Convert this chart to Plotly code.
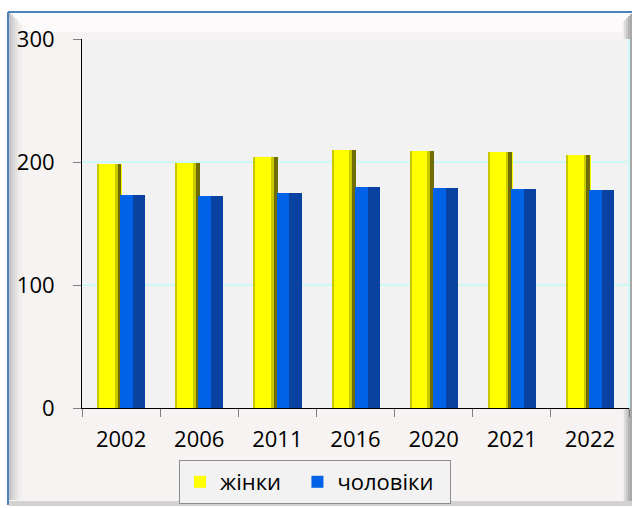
import plotly.graph_objects as go

years = ["2002", "2006", "2011", "2016", "2020", "2021", "2022"]
women = [198, 199, 204, 210, 209, 208, 206]
men = [173, 172, 175, 180, 179, 178, 177]
y_ticks = [0, 100, 200, 300]
series_names = ["жінки", "чоловіки"]

# plot area in pixels
L, R, T, B = 82, 629, 39, 408
W, H = 632, 508


def px(x):
    return (x - L) / (R - L)


def py(y):
    return (B - y) / (B - T)


FONT = "Open Sans"
PAD = "\u00a0\u00a0"
fig = go.Figure()

# yellow bar: main body, left olive edge, right dark edge
fig.add_trace(go.Bar(x=years, y=women, name=series_names[0] + PAD, offset=-0.30, width=0.31,
                     marker=dict(color="#FFFF00", line=dict(width=0)),
                     showlegend=True, legendrank=1))
fig.add_trace(go.Bar(x=years, y=women, offset=-0.30, width=0.02,
                     marker=dict(color="#C8C800", line=dict(width=0)), showlegend=False))
fig.add_trace(go.Bar(x=years, y=women, offset=-0.08, width=0.04,
                     marker=dict(color="#C9C900", line=dict(width=0)), showlegend=False))
fig.add_trace(go.Bar(x=years, y=women, offset=-0.045, width=0.05,
                     marker=dict(color="#6E6E05", line=dict(width=0)), showlegend=False))
# blue bar: left bright, right dark
fig.add_trace(go.Bar(x=years, y=men, name=series_names[1] + PAD, offset=-0.01, width=0.165,
                     marker=dict(color="#0062E6", line=dict(width=0)),
                     showlegend=True, legendrank=2))
fig.add_trace(go.Bar(x=years, y=men, offset=0.155, width=0.155,
                     marker=dict(color="#0A42A2", line=dict(width=0)), showlegend=False))

shapes = []
# frame background
shapes.append(dict(type="rect", xref="paper", yref="paper", layer="below",
                   x0=px(8), x1=px(632), y0=py(503), y1=py(12),
                   fillcolor="#F7F3F3", line=dict(width=0)))
shapes.append(dict(type="rect", xref="paper", yref="paper", layer="below",
                   x0=px(9), x1=px(632), y0=py(32), y1=py(13),
                   fillcolor="#FCFAFA", line=dict(width=0)))
# left bevel gradient
greys = ["#C4C4C4", "#CFCFCF", "#D9D9D9", "#E2E1E1", "#EAE8E8", "#F0EDED", "#F4F1F1"]
for i, c in enumerate(greys):
    shapes.append(dict(type="rect", xref="paper", yref="paper", layer="below",
                       x0=px(9 + 2 * i), x1=px(11 + 2 * i), y0=py(500), y1=py(13 + 2 * i),
                       fillcolor=c, line=dict(width=0)))
# right shadow
rgreys = ["#F0EEEE", "#DCDCDC", "#C8C8C8", "#B4B4B4", "#A8A8A8"]
for i, c in enumerate(rgreys):
    shapes.append(dict(type="rect", xref="paper", yref="paper", layer="below",
                       x0=px(622 + 2 * i), x1=px(624 + 2 * i), y0=py(505), y1=py(22 - 2 * i),
                       fillcolor=c, line=dict(width=0)))
# bottom shadow
shapes.append(dict(type="rect", xref="paper", yref="paper", layer="below",
                   x0=px(9), x1=px(632), y0=py(506), y1=py(501),
                   fillcolor="#D2D2D2", line=dict(width=0)))
# blue border lines
shapes.append(dict(type="line", xref="paper", yref="paper", layer="below",
                   x0=px(8), x1=px(632), y0=py(12), y1=py(12),
                   line=dict(color="#4F81BD", width=2)))
shapes.append(dict(type="line", xref="paper", yref="paper", layer="below",
                   x0=px(8), x1=px(8), y0=py(12), y1=py(505),
                   line=dict(color="#4F81BD", width=2)))
# plot area background
shapes.append(dict(type="rect", xref="paper", yref="paper", layer="below",
                   x0=0, x1=1, y0=0, y1=1, fillcolor="#F2F2F2", line=dict(width=0)))
# right cyan edge of plot area
shapes.append(dict(type="line", xref="paper", yref="paper", layer="above",
                   x0=1, x1=1, y0=0, y1=1, line=dict(color="#CCF8F8", width=2)))

fig.update_layout(
    width=W, height=H,
    margin=dict(l=L, r=W - R, t=T, b=H - B, pad=0),
    paper_bgcolor="white",
    plot_bgcolor="#F2F2F2",
    barmode="overlay",
    bargap=0,
    shapes=shapes,
    font=dict(family=FONT, size=22, color="black"),
    showlegend=True,
    legend=dict(orientation="h", x=px(179), xanchor="left", y=py(460), yanchor="top",
                bgcolor="#F2F2F2", bordercolor="#8C8C8C", borderwidth=1,
                font=dict(family=FONT, size=22, color="black"),
                itemwidth=30, traceorder="normal"),
    xaxis=dict(type="category", tickson="boundaries", ticks="outside", ticklen=8,
               tickcolor="#7F7F7F", showline=True, linecolor="black", linewidth=1,
               showgrid=False, ticklabelstandoff=12,
               tickfont=dict(family=FONT, size=22, color="black")),
    yaxis=dict(range=[0, 300], tickvals=y_ticks, ticks="outside", ticklen=8,
               tickcolor="#7F7F7F", showline=True, linecolor="black", linewidth=1,
               showgrid=True, gridcolor="#CCF8F8", gridwidth=2, zeroline=False,
               ticklabelstandoff=14,
               tickfont=dict(family=FONT, size=22, color="black")),
)

fig.write_html("out.html", config={"displayModeBar": False},
               post_script="document.body.style.margin='0';")
